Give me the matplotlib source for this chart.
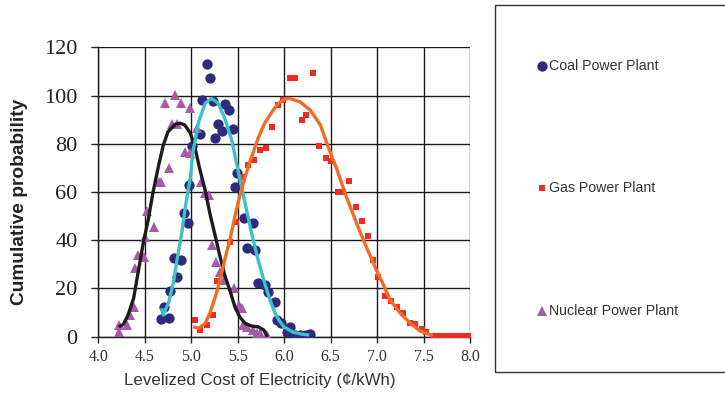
import matplotlib
matplotlib.use("Agg")
import matplotlib.pyplot as plt
from matplotlib.lines import Line2D
from matplotlib.patches import Rectangle

# ---- scatter data: levelized cost (cents/kWh) vs cumulative probability ----
coal_x = [5.17, 5.20, 5.12, 5.23, 5.36, 5.41, 5.29, 5.33, 5.45, 5.26, 5.09, 5.01,
          5.49, 5.47, 4.98, 4.92, 4.96, 5.57, 5.66, 5.60, 5.69, 4.82, 4.89, 4.85,
          4.77, 4.71, 4.68, 4.76, 5.72, 5.79, 5.83, 5.90, 5.92, 5.97, 6.03, 6.06,
          6.12, 6.17, 6.23, 6.28]
coal_y = [113.2, 107.1, 98.1, 97.8, 96.5, 94.0, 88.2, 85.1, 86.2, 82.2, 84.0, 79.1,
          68.0, 62.2, 62.9, 51.2, 47.0, 49.1, 47.3, 36.6, 35.9, 32.8, 32.0, 24.9,
          19.1, 12.4, 7.3, 7.7, 22.1, 21.4, 18.7, 14.5, 6.9, 5.5, 2.1, 4.1,
          0.7, 0.7, 0.7, 1.1]

gas_x = [5.04, 5.09, 5.17, 5.23, 5.28, 5.42, 5.48, 5.55, 5.61, 5.68, 5.74, 5.81,
         5.87, 5.93, 5.99, 6.06, 6.12, 6.31, 6.19, 6.24, 6.38, 6.45, 6.50, 6.58,
         6.63, 6.70, 6.77, 6.84, 6.90, 6.96, 7.01, 7.09, 7.15, 7.21, 7.28, 7.35,
         7.41, 7.48, 7.53, 7.60, 7.65, 7.70, 7.75, 7.80, 7.85, 7.90, 7.95, 8.00]
gas_y = [7.0, 2.8, 4.8, 8.8, 23.0, 39.2, 47.7, 66.3, 71.2, 73.2, 77.3, 78.1,
         87.1, 96.1, 98.1, 107.1, 107.1, 109.2, 89.9, 92.0, 79.1, 74.0, 73.0, 59.9,
         59.9, 64.7, 53.9, 48.1, 41.9, 31.8, 24.9, 16.9, 14.9, 12.2, 10.0, 5.8,
         5.3, 3.1, 2.1, 0.3, 0.3, 0.3, 0.3, 0.3, 0.3, 0.3, 0.3, 0.3]

nuclear_x = [4.22, 4.22, 4.31, 4.34, 4.38, 4.40, 4.43, 4.49, 4.50, 4.52, 4.60, 4.65,
             4.68, 4.76, 4.79, 4.85, 4.72, 4.83, 4.89, 4.99, 4.93, 4.99, 5.06, 5.10,
             5.15, 5.19, 5.22, 5.27, 5.31, 5.35, 5.46, 5.51, 5.55, 5.56, 5.60, 5.67,
             5.71, 5.74, 5.82]
nuclear_y = [2.0, 4.8, 4.8, 9.0, 12.4, 28.4, 33.9, 33.2, 41.5, 52.1, 45.6, 64.3,
             64.0, 70.0, 88.0, 88.0, 96.8, 100.2, 96.8, 94.8, 76.7, 76.0, 86.4, 64.3,
             59.5, 58.8, 38.0, 31.1, 27.0, 23.5, 20.0, 13.0, 11.8, 4.8, 4.1, 2.8,
             1.7, 1.4, 0.7]

# ---- fitted trend curves ----
coal_fit_x = [4.68, 4.70, 4.76, 4.81, 4.85, 4.90, 4.94, 4.99, 5.02, 5.08, 5.15,
              5.22, 5.29, 5.36, 5.44, 5.51, 5.58, 5.65, 5.72, 5.80, 5.85, 5.90,
              5.95, 6.00, 6.10, 6.20, 6.27]
coal_fit_y = [11.8, 9.0, 14.5, 22.8, 32.5, 43.5, 54.6, 65.7, 77.0, 89.1, 96.8,
              98.8, 96.8, 90.6, 80.9, 67.8, 55.3, 42.9, 31.8, 21.0, 15.0, 10.0,
              6.5, 4.0, 1.8, 1.0, 0.7]

gas_fit_x = [5.02, 5.08, 5.15, 5.20, 5.26, 5.31, 5.36, 5.42, 5.47, 5.52, 5.58,
             5.65, 5.72, 5.79, 5.87, 5.94, 6.01, 6.06, 6.17, 6.28, 6.39, 6.46,
             6.57, 6.67, 6.78, 6.89, 7.00, 7.08, 7.14, 7.25, 7.36, 7.46, 7.57, 7.60]
gas_fit_y = [4.1, 3.5, 5.5, 9.7, 16.6, 23.5, 31.8, 40.8, 49.8, 58.0, 66.3,
             74.6, 82.3, 88.5, 93.3, 96.8, 98.6, 98.8, 97.4, 94.0, 87.8, 80.2,
             69.1, 58.0, 47.0, 36.7, 27.0, 20.5, 15.2, 9.7, 5.5, 2.4, 0.8, 0.5]

nuclear_fit_x = [4.22, 4.27, 4.32, 4.38, 4.43, 4.48, 4.54, 4.59, 4.65, 4.70, 4.75,
                 4.83, 4.88, 4.93, 4.99, 5.04, 5.09, 5.15, 5.20, 5.26, 5.31, 5.36,
                 5.42, 5.47, 5.52, 5.58, 5.65, 5.72, 5.78, 5.82]
nuclear_fit_y = [4.1, 5.1, 9.0, 15.9, 27.0, 38.0, 49.1, 60.1, 71.2, 79.5, 85.0,
                 88.1, 88.5, 87.8, 84.5, 78.5, 69.8, 60.8, 51.2, 41.5, 33.2, 25.6,
                 18.7, 12.4, 8.3, 5.5, 4.4, 4.1, 2.8, 0.0]

labels = ["Coal Power Plant", "Gas Power Plant", "Nuclear Power Plant"]
x_ticks = [4.0, 4.5, 5.0, 5.5, 6.0, 6.5, 7.0, 7.5, 8.0]
y_ticks = [0, 20, 40, 60, 80, 100, 120]

coal_color = "#2D2B7C"
gas_color = "#EE2B24"
nuclear_color = "#A65AA9"

W, H = 725, 398
fig = plt.figure(figsize=(W / 100, H / 100), dpi=100)
ax = fig.add_axes([98.3 / W, 1 - 336.7 / H, (470 - 98.3) / W, (336.7 - 47.3) / H])

ax.plot(coal_x, coal_y, linestyle="none", marker="o", markersize=7.4,
        color=coal_color, markeredgewidth=0, zorder=3)
ax.plot(gas_x, gas_y, linestyle="none", marker="s", markersize=4.6,
        color=gas_color, markeredgewidth=0, zorder=3)
ax.plot(nuclear_x, nuclear_y, linestyle="none", marker="^", markersize=7.8,
        color=nuclear_color, markeredgewidth=0, zorder=3)

ax.plot(nuclear_fit_x, nuclear_fit_y, color="#1C1C1C", lw=2.4, zorder=4,
        solid_capstyle="butt")
ax.plot(coal_fit_x, coal_fit_y, color="#3EC0C8", lw=2.4, zorder=4,
        solid_capstyle="butt")
ax.plot(gas_fit_x, gas_fit_y, color="#F36C23", lw=2.4, zorder=4,
        solid_capstyle="butt")

ax.set_xlim(4.0, 8.0)
ax.set_ylim(0, 120)
ax.set_xticks(x_ticks)
ax.set_yticks(y_ticks)
ax.set_xticklabels([f"{v:.1f}" for v in x_ticks], family="Liberation Serif",
                   fontsize=11.5, color="#333333")
ax.set_yticklabels([str(v) for v in y_ticks], family="Liberation Serif",
                   fontsize=16, color="#222222")
ax.tick_params(axis="y", direction="out", length=5, width=1, pad=10, color="#222222")
ax.tick_params(axis="x", direction="out", length=4, width=1, pad=5, color="#222222")

ax.grid(True, color="#1A1A1A", linewidth=1.0, zorder=0)
ax.set_axisbelow(True)
for side in ("top", "right"):
    ax.spines[side].set_visible(False)
for side in ("left", "bottom"):
    ax.spines[side].set_color("#1A1A1A")
    ax.spines[side].set_linewidth(1.0)

fig.text(260 / W, 1 - 381 / H, "Levelized Cost of Electricity (\u00a2/kWh)",
         ha="center", va="center", family="Liberation Sans", fontsize=12.2,
         color="#333333")
fig.text(20 / W, 1 - 202 / H, "Cumulative probability", rotation=90,
         ha="center", va="center", family="Liberation Sans", fontsize=13.8,
         fontweight="bold", color="#222222")

# legend panel
fig.patches.append(Rectangle((495 / W, 1 - 372 / H), 240 / W, 367 / H,
                             transform=fig.transFigure, fill=False,
                             edgecolor="#333333", linewidth=1.0))
legend_rows = [66, 188, 311]
markers = [("o", 7.4, coal_color), ("s", 4.6, gas_color), ("^", 7.8, nuclear_color)]
for row, (mk, ms, col), text in zip(legend_rows, markers, labels):
    fig.add_artist(Line2D([542 / W], [1 - row / H], transform=fig.transFigure,
                          marker=mk, markersize=ms, color=col,
                          markeredgewidth=0, linestyle="none"))
    fig.text(549 / W, 1 - row / H, text, ha="left", va="center",
             family="Liberation Sans", fontsize=10.2, color="#333333")

fig.savefig("out.png", dpi=100)
